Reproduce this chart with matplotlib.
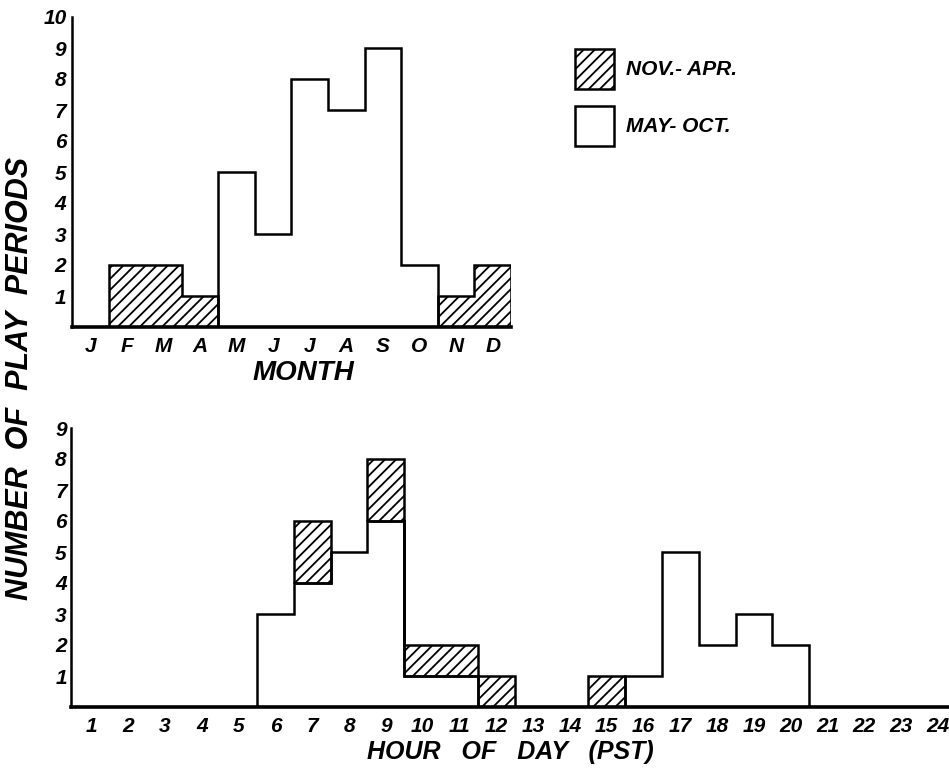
import matplotlib
matplotlib.use("Agg")
import matplotlib.pyplot as plt
from matplotlib.patches import Patch
import numpy as np

plt.rcParams['font.family'] = ['Liberation Sans', 'DejaVu Sans']
plt.rcParams['font.weight'] = 'bold'
plt.rcParams['font.style'] = 'italic'
plt.rcParams['axes.labelweight'] = 'bold'
plt.rcParams['hatch.linewidth'] = 1.3

# monthly play periods
months = ['J', 'F', 'M', 'A', 'M', 'J', 'J', 'A', 'S', 'O', 'N', 'D']
month_open = [0, 0, 0, 0, 5, 3, 8, 7, 9, 2, 0, 0]
month_hatch = [0, 2, 2, 1, 0, 0, 0, 0, 0, 0, 1, 2]

# hourly play periods
hours = [str(h) for h in range(1, 25)]
hour_open = [0, 0, 0, 0, 0, 3, 4, 5, 6, 1, 1, 0, 0, 0, 0, 1, 5, 2, 3, 2, 0, 0, 0, 0]
hour_hatch = [0, 0, 0, 0, 0, 0, 2, 0, 2, 1, 1, 1, 0, 0, 1, 0, 0, 0, 0, 0, 0, 0, 0, 0]

LW = 1.8
HATCH = '///'


def draw_hist(ax, labels, open_v, hatch_v):
    n = len(labels)
    x = np.arange(1, n + 1)
    edges = np.arange(0.5, n + 1)
    open_v = np.array(open_v, dtype=float)
    hatch_v = np.array(hatch_v, dtype=float)
    # hatch fill (no edge)
    ax.bar(x, hatch_v, bottom=open_v, width=1.0, facecolor='white',
           edgecolor='black', linewidth=0, hatch=HATCH, zorder=2)
    # outline of open part
    ax.stairs(open_v, edges, baseline=0, color='black', linewidth=LW, zorder=3)
    # outline of hatched runs
    i = 0
    while i < n:
        if hatch_v[i] > 0:
            j = i
            while j + 1 < n and hatch_v[j + 1] > 0:
                j += 1
            top = (open_v + hatch_v)[i:j + 1]
            bot = open_v[i:j + 1]
            ax.stairs(top, edges[i:j + 2], baseline=bot, color='black',
                      linewidth=LW, zorder=3)
            i = j + 1
        else:
            i += 1
    ax.set_xticks(x)
    ax.set_xticklabels(labels)
    for s in ['top', 'right']:
        ax.spines[s].set_visible(False)
    ax.spines['left'].set_linewidth(1.8)
    ax.spines['bottom'].set_linewidth(2.6)
    ax.tick_params(length=0, labelsize=15)


fig = plt.figure(figsize=(9.49, 7.73), dpi=100)

ax1 = fig.add_axes([72 / 949, 1 - 327 / 773, 439 / 949, 310 / 773])
draw_hist(ax1, months, month_open, month_hatch)
ax1.set_xlim(0.5, 12.5)
ax1.set_ylim(0, 10)
ax1.set_yticks(range(1, 11))
ax1.tick_params(axis='x', pad=7)
ax1.tick_params(axis='y', pad=4)
ax1.set_xlabel('MONTH', fontsize=20)
ax1.xaxis.set_label_coords(0.526, -0.105)

ax2 = fig.add_axes([71 / 949, 1 - 707 / 773, 878 / 949, 279 / 773])
draw_hist(ax2, hours, hour_open, hour_hatch)
ax2.set_xlim(0.446, 24.3)
ax2.set_ylim(0, 9)
ax2.set_yticks(range(1, 10))
ax2.tick_params(axis='x', pad=7)
ax2.tick_params(axis='y', pad=3)
ax2.set_xlabel('HOUR   OF   DAY   (PST)', fontsize=18)
ax2.xaxis.set_label_coords(0.5, -0.118)

fig.text(20 / 949, 1 - 378 / 773, 'NUMBER  OF  PLAY  PERIODS', rotation=90,
         ha='center', va='center', fontsize=22)

handles = [Patch(facecolor='white', edgecolor='black', hatch=HATCH, linewidth=LW),
           Patch(facecolor='white', edgecolor='black', linewidth=LW)]
fig.legend(handles, ['NOV.- APR.', 'MAY- OCT.'], loc='upper left',
           bbox_to_anchor=(575 / 949, 1 - 49 / 773), frameon=False,
           fontsize=15, handlelength=1.85, handleheight=2.55,
           handletextpad=0.6, labelspacing=0.85, borderpad=0, borderaxespad=0)

fig.savefig('out.png', dpi=100, facecolor='white')
